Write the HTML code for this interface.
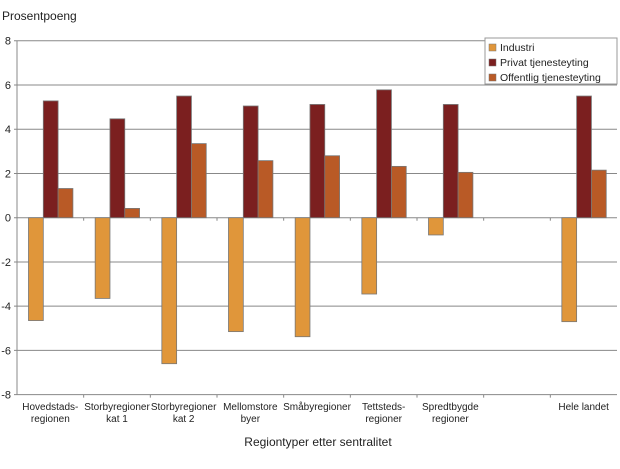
<!DOCTYPE html>
<html><head><meta charset="utf-8"><style>
body{margin:0;background:#fff;font-family:"Liberation Sans",Arial,sans-serif}
svg text{font-family:"Liberation Sans",Arial,sans-serif;fill:#222}
</style></head><body>
<svg id="chart" width="620" height="464">
<g id="grid"></g><g id="bars"></g><g id="labels"></g>
<text x="2" y="20" font-size="12">Prosentpoeng</text>
<text x="318" y="446" font-size="12" text-anchor="middle">Regiontyper etter sentralitet</text>
<g>
<rect x="485" y="38" width="132" height="46" fill="#fff" stroke="#999"/>
<rect x="489" y="44" width="7" height="7" fill="#e0963a" stroke="#777" stroke-width="0.5"/><text x="500" y="51" font-size="10.5">Industri</text>
<rect x="489" y="59" width="7" height="7" fill="#7b1f1f" stroke="#777" stroke-width="0.5"/><text x="500" y="66" font-size="10.5">Privat tjenesteyting</text>
<rect x="489" y="74" width="7" height="7" fill="#b95a26" stroke="#777" stroke-width="0.5"/><text x="500" y="81" font-size="10.5">Offentlig tjenesteyting</text>
</g>
</svg>
<script>
const categories=[["Hovedstads-","regionen"],["Storbyregioner","kat 1"],["Storbyregioner","kat 2"],["Mellomstore","byer"],["Småbyregioner",""],["Tettsteds-","regioner"],["Spredtbygde","regioner"],["",""],["Hele landet",""]];
const industri=[-4.65,-3.65,-6.6,-5.15,-5.38,-3.45,-0.78,null,-4.7];
const privat=[5.28,4.47,5.5,5.05,5.12,5.78,5.12,null,5.5];
const offentlig=[1.32,0.42,3.35,2.58,2.8,2.32,2.05,null,2.15];
const yTicks=[8,6,4,2,0,-2,-4,-6,-8];
const NS="http://www.w3.org/2000/svg";
const x0=17,x1=617,slot=(x1-x0)/categories.length;
function y(v){return 217.7-v*22.12;}
function mk(t,a,p){const e=document.createElementNS(NS,t);for(const k in a)e.setAttribute(k,a[k]);p.appendChild(e);return e;}
const grid=document.getElementById('grid'),bars=document.getElementById('bars'),labels=document.getElementById('labels');
yTicks.forEach(v=>{
 const l=mk('line',{x1:x0-3,x2:x1,y1:y(v),y2:y(v),stroke:'#888','stroke-width':1},grid);
 
 
 const t=mk('text',{x:11,y:y(v)+4,'font-size':11,'text-anchor':'end'},labels);t.textContent=v;
 
 
});
mk('line',{x1:x0,x2:x0,y1:y(8),y2:y(-8),stroke:'#888'},grid);
for(let i=1;i<categories.length;i++){mk('line',{x1:x0+i*slot,x2:x0+i*slot,y1:y(0),y2:y(0)+3,stroke:'#888'},grid);mk('line',{x1:x0+i*slot,x2:x0+i*slot,y1:y(-8),y2:y(-8)+3,stroke:'#888'},grid);}
const series=[[industri,'#e0963a','bar-industri'],[privat,'#7b1f1f','bar-privat'],[offentlig,'#b95a26','bar-offentlig']];
const bw=14.8,off=11.5;
categories.forEach((c,i)=>{
 series.forEach((s,j)=>{
  const v=s[0][i];if(v==null)return;
  const bx=x0+i*slot+off+j*bw;
  const r=mk('rect',{x:bx,y:Math.min(y(v),y(0)),width:bw,height:Math.abs(y(v)-y(0)),fill:s[1],stroke:'#777','stroke-width':0.8},bars);
  
  
 });
 c.forEach((ln,k)=>{if(!ln)return;
  const t=mk('text',{x:x0+i*slot+slot/2,y:410+k*12,'font-size':10,'text-anchor':'middle'},labels);t.textContent=ln;
  
  
 });
});
</script>
</body></html>
